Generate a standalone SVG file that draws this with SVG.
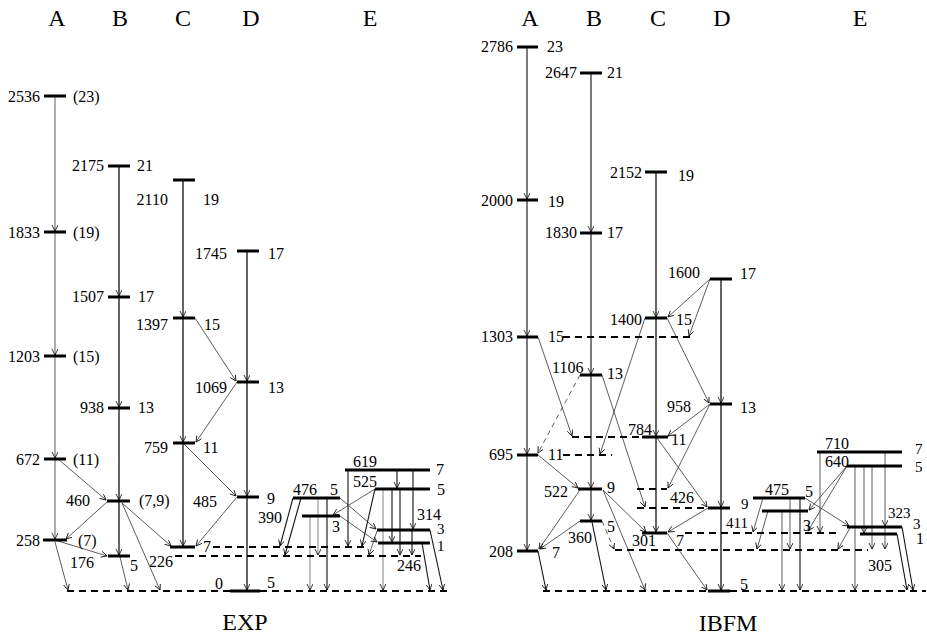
<svg xmlns="http://www.w3.org/2000/svg" width="927" height="635" viewBox="0 0 927 635">
<style>
text{font-family:"Liberation Serif","Times New Roman",serif;font-size:16px;fill:#000}
.hd{font-size:24px;text-anchor:middle}
.e{text-anchor:end}
.sm{font-size:15px}
.lvl{stroke:#000;stroke-width:3;fill:none}
.dash{stroke:#000;stroke-width:2.2;stroke-dasharray:7 5;fill:none}
.band{stroke:#111;stroke-width:1.3;fill:none;marker-end:url(#ah)}
.bandg{stroke:#999;stroke-width:1.6;fill:none;marker-end:url(#ah)}
.bandd{stroke:#444;stroke-width:1.4;fill:none;marker-end:url(#ah)}
.tr{stroke:#333;stroke-width:0.8;fill:none;marker-end:url(#ah)}
.trg{stroke:#999;stroke-width:1.2;fill:none;marker-end:url(#ah)}
.trd{stroke:#111;stroke-width:1.1;fill:none;marker-end:url(#ah)}
.trdash{stroke:#333;stroke-width:0.8;fill:none;stroke-dasharray:5 4;marker-end:url(#ah)}
</style>
<defs>
<marker id="ah" markerWidth="8" markerHeight="8" refX="6" refY="3" orient="auto" markerUnits="userSpaceOnUse">
<path d="M0,0 L6,3 L0,6" fill="none" stroke="#000" stroke-width="0.8"/>
</marker>
</defs>
<rect width="927" height="635" fill="#fff"/>

<g id="headers">
<text class="hd" x="57" y="26">A</text>
<text class="hd" x="120" y="26">B</text>
<text class="hd" x="183" y="26">C</text>
<text class="hd" x="251" y="26">D</text>
<text class="hd" x="370" y="26">E</text>
<text class="hd" x="530" y="26">A</text>
<text class="hd" x="594" y="26">B</text>
<text class="hd" x="658" y="26">C</text>
<text class="hd" x="722" y="26">D</text>
<text class="hd" x="860" y="26">E</text>
<text class="hd" x="245" y="630">EXP</text>
<text class="hd" x="728" y="631">IBFM</text>
</g>

<g id="connectors">
<path class="bandg" d="M55,96 L55,231"/><path class="bandg" d="M55,232 L55,355"/><path class="bandg" d="M55,356 L55,458"/><path class="bandg" d="M55,459 L55,539"/>
<path class="band" d="M119,166 L119,296"/><path class="band" d="M119,297 L119,407"/><path class="band" d="M119,408 L119,500"/><path class="band" d="M119,501 L119,555"/>
<path class="band" d="M183,180 L183,317"/><path class="band" d="M183,318 L183,442"/><path class="band" d="M183,443 L183,546"/>
<path class="band" d="M247,251 L247,381"/><path class="band" d="M247,382 L247,496"/><path class="band" d="M247,497 L247,590"/>
<path class="tr" d="M195,318 L236,381"/>
<path class="tr" d="M237,382 L196,442"/>
<path class="tr" d="M184,444 L236,496"/>
<path class="tr" d="M237,497 L196,546"/>
<path class="tr" d="M58,459 L106,500"/>
<path class="tr" d="M107,502 L66,539"/>
<path class="tr" d="M58,541 L107,556"/>
<path class="tr" d="M55,542 L68,590"/>
<path class="tr" d="M120,557 L128,590"/>
<path class="tr" d="M122,503 L160,590"/>
<path class="tr" d="M122,503 L171,546"/>
<path class="trd" d="M293,498 L280,546"/>
<path class="trd" d="M301,498 L285,555"/>
<path class="trg" d="M310,516 L310,590"/>
<path class="trg" d="M318,498 L318,555"/>
<path class="trd" d="M327,498 L327,590"/>
<path class="tr" d="M340,498 L376,529"/>
<path class="tr" d="M340,516 L377,542"/>
<path class="trd" d="M348,470 L348,546"/>
<path class="trd" d="M397,470 L397,488"/>
<path class="trd" d="M413,470 L413,529"/>
<path class="trg" d="M383,489 L383,590"/>
<path class="trd" d="M392,489 L392,542"/>
<path class="trd" d="M400,489 L400,555"/>
<path class="trd" d="M412,530 L412,555"/>
<path class="tr" d="M375,489 L333,515"/>
<path class="trd" d="M375,489 L362,546"/>
<path class="tr" d="M377,531 L369,555"/>
<path class="trd" d="M430,530 L443,590"/>
<path class="trd" d="M422,543 L430,590"/>

<path class="bandd" d="M527,47 L527,199"/><path class="bandd" d="M527,200 L527,336"/><path class="bandd" d="M527,337 L527,454"/><path class="bandd" d="M527,455 L527,550"/>
<path class="bandd" d="M591,73 L591,232"/><path class="bandd" d="M591,233 L591,374"/><path class="bandd" d="M591,375 L591,488"/><path class="bandd" d="M591,489 L591,520"/>
<path class="band" d="M656,172 L656,317"/><path class="band" d="M656,318 L656,436"/><path class="band" d="M656,437 L656,532"/>
<path class="band" d="M721,279 L721,403"/><path class="band" d="M721,404 L721,507"/><path class="band" d="M721,508 L721,590"/>
<path class="tr" d="M538,337 L572,436"/>
<path class="tr" d="M645,318 L600,454"/>
<path class="trdash" d="M580,375 L538,453"/>
<path class="tr" d="M602,375 L645,507"/>
<path class="tr" d="M667,318 L709,403"/>
<path class="tr" d="M710,279 L668,317"/>
<path class="tr" d="M710,279 L689,336"/>
<path class="tr" d="M710,404 L668,436"/>
<path class="tr" d="M710,404 L668,488"/>
<path class="tr" d="M657,438 L707,507"/>
<path class="tr" d="M708,508 L668,532"/>
<path class="tr" d="M667,533 L707,590"/>
<path class="tr" d="M538,455 L578,488"/>
<path class="tr" d="M580,490 L539,549"/>
<path class="tr" d="M580,521 L540,549"/>
<path class="trd" d="M538,551 L546,590"/>
<path class="trd" d="M592,522 L606,590"/>
<path class="tr" d="M603,490 L646,532"/>
<path class="tr" d="M603,490 L645,590"/>
<path class="trdash" d="M602,521 L614,549"/>
<path class="tr" d="M820,452 L820,532"/>
<path class="tr" d="M885,452 L885,526"/>
<path class="tr" d="M885,527 L885,549"/>
<path class="tr" d="M855,466 L855,590"/>
<path class="tr" d="M864,466 L864,533"/>
<path class="tr" d="M872,466 L872,549"/>
<path class="tr" d="M847,466 L809,510"/>
<path class="tr" d="M847,466 L808,531"/>
<path class="tr" d="M763,498 L753,532"/>
<path class="tr" d="M768,511 L757,549"/>
<path class="tr" d="M790,498 L790,549"/>
<path class="tr" d="M782,511 L782,590"/>
<path class="trd" d="M800,498 L800,590"/>
<path class="tr" d="M805,498 L849,526"/>
<path class="tr" d="M850,528 L838,549"/>
<path class="trd" d="M902,527 L913,590"/>
<path class="trd" d="M897,534 L907,590"/>
</g>

<g id="exp-A">
<path class="lvl" d="M44,96H66M44,232H66M44,356H66M44,459H66M43,540H67"/>
<text class="e" x="40" y="102">2536</text><text x="73" y="102">(23)</text>
<text class="e" x="40" y="238">1833</text><text x="73" y="238">(19)</text>
<text class="e" x="40" y="362">1203</text><text x="73" y="362">(15)</text>
<text class="e" x="40" y="465">672</text><text x="73" y="465">(11)</text>
<text class="e" x="40" y="546">258</text><text x="78" y="546">(7)</text>
</g>
<g id="exp-B">
<path class="lvl" d="M108,166H130M108,297H130M108,408H130M107,501H130M108,556H130"/>
<text class="e" x="104" y="171">2175</text><text x="137" y="171">21</text>
<text class="e" x="104" y="302">1507</text><text x="138" y="302">17</text>
<text class="e" x="104" y="413">938</text><text x="138" y="413">13</text>
<text class="e" x="90" y="506">460</text><text x="139" y="506">(7,9)</text>
<text x="70" y="568">176</text><text x="130" y="571">5</text>
</g>
<g id="exp-C">
<path class="lvl" d="M173,180H195M173,318H195M173,443H195M170,547H195"/>
<text class="e" x="168" y="205">2110</text><text x="203" y="205">19</text>
<text class="e" x="168" y="330">1397</text><text x="204" y="330">15</text>
<text class="e" x="168" y="453">759</text><text x="203" y="453">11</text>
<text x="203" y="552">7</text>
<text class="e" x="173" y="567">226</text>
</g>
<g id="exp-D">
<path class="lvl" d="M237,251H259M237,382H259M237,497H259M230,591H260"/>
<text x="195" y="259">1745</text><text x="268" y="259">17</text>
<text x="195" y="393">1069</text><text x="268" y="393">13</text>
<text x="193" y="507">485</text><text x="267" y="504">9</text>
<text x="215" y="589">0</text><text x="267" y="588">5</text>
</g>
<g id="exp-dashed">
<path class="dash" d="M213,547H366"/>
<path class="dash" d="M175,556H421"/>
<path class="dash" d="M67,591H230M260,591H451"/>
</g>
<g id="exp-E">
<path class="lvl" d="M345,470H430M375,489H430M293,498H340M302,516H340M377,530H430M378,543H430"/>
<text x="353" y="467">619</text><text x="436" y="475">7</text>
<text x="353" y="487">525</text><text x="437" y="495">5</text>
<text x="293" y="495">476</text><text x="330" y="495">5</text>
<text x="258" y="523">390</text><text x="332" y="532">3</text>
<text x="417" y="520">314</text><text class="sm" x="437" y="534">3</text>
<text class="sm" x="437" y="551">1</text>
<text x="397" y="571">246</text>
</g>

<g id="ibfm-A">
<path class="lvl" d="M517,47H538M517,200H538M517,337H538M517,455H538M517,551H538"/>
<text class="e" x="513" y="52">2786</text><text x="547" y="52">23</text>
<text class="e" x="513" y="206">2000</text><text x="548" y="207">19</text>
<text class="e" x="513" y="342">1303</text><text x="548" y="342">15</text>
<text class="e" x="513" y="460">695</text><text x="548" y="460">11</text>
<text class="e" x="513" y="557">208</text><text x="552" y="558">7</text>
</g>
<g id="ibfm-B">
<path class="lvl" d="M580,73H602M580,233H602M580,375H602M578,489H602M580,521H602"/>
<text class="e" x="577" y="78">2647</text><text x="607" y="78">21</text>
<text class="e" x="577" y="238">1830</text><text x="607" y="238">17</text>
<text x="552" y="373">1106</text><text x="607" y="379">13</text>
<text class="e" x="568" y="497">522</text><text x="607" y="493">9</text>
<text x="568" y="543">360</text><text x="607" y="532">5</text>
</g>
<g id="ibfm-C">
<path class="lvl" d="M645,172H667M645,318H667M642,437H668M642,533H667"/>
<text class="e" x="642" y="178">2152</text><text x="678" y="181">19</text>
<text class="e" x="642" y="325">1400</text><text x="676" y="325">15</text>
<text x="628" y="435">784</text><text x="671" y="445">11</text>
<text x="670" y="503">426</text>
<text x="632" y="546">301</text><text x="676" y="546">7</text>
</g>
<g id="ibfm-D">
<path class="lvl" d="M710,279H732M710,404H732M708,508H730M708,591H730"/>
<text class="e" x="700" y="278">1600</text><text x="740" y="279">17</text>
<text x="667" y="412">958</text><text x="740" y="413">13</text>
<text class="sm" x="741" y="509">9</text>
<text x="740" y="590">5</text>
</g>
<g id="ibfm-dashed">
<path class="dash" d="M563,337H690"/>
<path class="dash" d="M563,455H612"/>
<path class="dash" d="M572,437H640"/>
<path class="dash" d="M637,489H667"/>
<path class="dash" d="M637,508H708"/>
<path class="dash" d="M685,533H838"/>
<path class="dash" d="M615,550H868"/>
<path class="dash" d="M543,591H708M730,591H926"/>
</g>
<g id="ibfm-E">
<path class="lvl" d="M817,452H902M847,466H902M753,498H805M762,511H808M847,527H902M860,534H897"/>
<text x="825" y="449">710</text><text class="sm" x="915" y="454">7</text>
<text x="825" y="467">640</text><text class="sm" x="915" y="472">5</text>
<text x="765" y="495">475</text><text x="805" y="497">5</text>
<text class="sm" x="726" y="528">411</text><text x="803" y="531">3</text>
<text class="sm" x="888" y="518">323</text><text class="sm" x="913" y="529">3</text>
<text x="916" y="544">1</text>
<text x="868" y="571">305</text>
</g>
</svg>
